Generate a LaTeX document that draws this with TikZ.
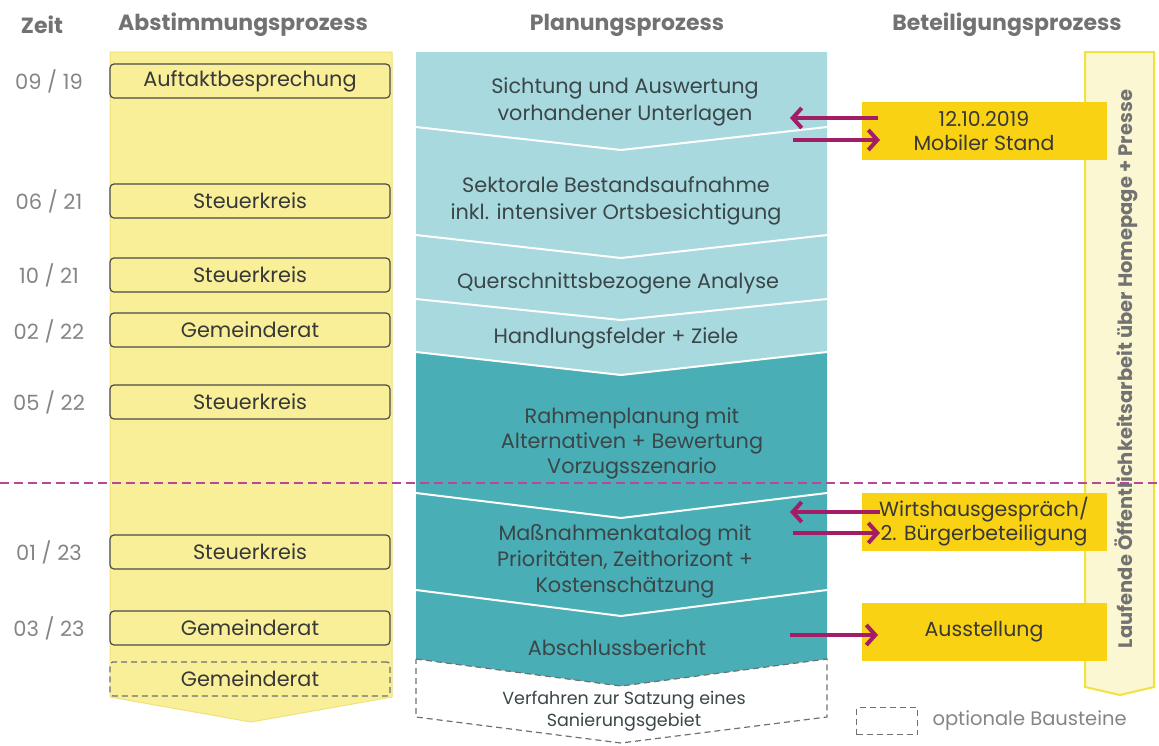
\documentclass[tikz,border=0pt]{standalone}
\usepackage{fontspec}
\setmainfont{Poppins}
\usetikzlibrary{arrows.meta}
\definecolor{ylight}{HTML}{F8EF98}
\definecolor{yedge}{HTML}{EFE27A}
\definecolor{ybright}{HTML}{FAD214}
\definecolor{stripfill}{HTML}{FBF7D2}
\definecolor{stripedge}{HTML}{F2E23E}
\definecolor{tlight}{HTML}{A8D9DE}
\definecolor{tdark}{HTML}{4AAEB6}
\definecolor{hdrgray}{HTML}{727272}
\definecolor{dategray}{HTML}{858585}
\definecolor{txt}{HTML}{383838}
\definecolor{ttxt}{HTML}{3A4648}
\definecolor{boxline}{HTML}{4A4A4A}
\definecolor{magarrow}{HTML}{A21D66}
\definecolor{purpdash}{HTML}{B8479C}
\definecolor{dashgray}{HTML}{707070}
\begin{document}
\begin{tikzpicture}[x=1pt,y=-1pt,
  hdr/.style={font=\fontsize{22}{26}\selectfont\bfseries, text=hdrgray},
  datelbl/.style={font=\fontsize{21}{24}\selectfont, text=dategray},
  abox/.style={draw=boxline, fill=ylight, rounded corners=4pt, line width=1.2pt,
    minimum width=280, minimum height=34, inner sep=0pt, font=\fontsize{20.8}{24}\selectfont, text=txt},
  obox/.style={abox, draw=dashgray, dashed, dash pattern=on 6pt off 4pt, rounded corners=3pt},
  ptext/.style={align=center, font=\fontsize{20.8}{27}\selectfont, text=ttxt},
  bbox/.style={fill=ybright, minimum width=245, minimum height=58, inner sep=0pt,
    align=center, font=\fontsize{20.5}{24}\selectfont, text=txt},
  parr/.style={draw=magarrow, line width=4.5pt, -{Straight Barb[length=9pt,width=20pt,line width=4pt]}},
  segline/.style={draw=white, line width=2pt}
]
\useasboundingbox (0,0) rectangle (1159,745);

% headers
\node[hdr] (hz) at (42,25) {Zeit};
\node[hdr] (ha) at (243,25) {Abstimmungsprozess};
\node[hdr] (hp) at (627,25) {Planungsprozess};
\node[hdr] (hb) at (1007,25) {Beteiligungsprozess};

% left yellow column
\path[fill=ylight, draw=yedge, line width=1pt] (110,52) -- (392,52) -- (392,697) -- (251,722) -- (110,697) -- cycle;

% right strip
\path[fill=stripfill, draw=stripedge, line width=2pt] (1085,52) -- (1154,52) -- (1154,687) -- (1120,695) -- (1085,687) -- cycle;
\node[rotate=90, font=\fontsize{19.5}{22}\selectfont\bfseries, text=hdrgray] (strip) at (1126,369)
  {Laufende Öffentlichkeitsarbeit über Homepage + Presse};

% planning segments
\path[fill=tlight] (416,52) -- (827,52) -- (827,127) -- (621,150) -- (416,127) -- cycle;
\path[fill=tlight] (416,127) -- (621,150) -- (827,127) -- (827,235) -- (621,258) -- (416,235) -- cycle;
\path[fill=tlight] (416,235) -- (621,258) -- (827,235) -- (827,299) -- (621,320) -- (416,299) -- cycle;
\path[fill=tlight] (416,299) -- (621,320) -- (827,299) -- (827,352) -- (621,375) -- (416,352) -- cycle;
\path[fill=tdark] (416,352) -- (621,375) -- (827,352) -- (827,493) -- (621,518) -- (416,493) -- cycle;
\path[fill=tdark] (416,493) -- (621,518) -- (827,493) -- (827,590) -- (621,616) -- (416,590) -- cycle;
\path[fill=tdark] (416,590) -- (621,616) -- (827,590) -- (827,659) -- (621,686) -- (416,659) -- cycle;
\draw[segline] (416,127) -- (621,150) -- (827,127);
\draw[segline] (416,235) -- (621,258) -- (827,235);
\draw[segline] (416,299) -- (621,320) -- (827,299);
\draw[segline] (416,352) -- (621,375) -- (827,352);
\draw[segline] (416,493) -- (621,518) -- (827,493);
\draw[segline] (416,590) -- (621,616) -- (827,590);
% optional dashed segment
\draw[draw=dashgray, line width=1.2pt, dash pattern=on 6pt off 4pt]
  (416,659) -- (621,686) -- (827,659) -- (827,717) -- (621,743) -- (416,717) -- cycle;

\node[ptext] (s1) at (625,102) {Sichtung und Auswertung\\vorhandener Unterlagen};
\node[ptext] (s2) at (616,201) {Sektorale Bestandsaufnahme\\inkl. intensiver Ortsbesichtigung};
\node[ptext] (s3) at (618,283) {Querschnittsbezogene Analyse};
\node[ptext] (s4) at (616,338) {Handlungsfelder + Ziele};
\node[ptext, font=\fontsize{20.8}{25}\selectfont] (s5) at (632,443) {Rahmenplanung mit\\Alternativen + Bewertung\\Vorzugsszenario};
\node[ptext, font=\fontsize{20.8}{26}\selectfont] (s6) at (625,561) {Maßnahmenkatalog mit\\Prioritäten, Zeithorizont +\\Kostenschätzung};
\node[ptext] (s7) at (617,648) {Abschlussbericht};
\node[ptext, font=\fontsize{17.5}{22}\selectfont] (s8) at (624,711) {Verfahren zur Satzung eines\\Sanierungsgebiet};

% dates
\node[datelbl] (d1) at (49,81) {09 / 19};
\node[datelbl] (d2) at (49,201) {06 / 21};
\node[datelbl] (d3) at (49,275) {10 / 21};
\node[datelbl] (d4) at (49,331) {02 / 22};
\node[datelbl] (d5) at (49,402) {05 / 22};
\node[datelbl] (d6) at (49,552) {01 / 23};
\node[datelbl] (d7) at (49,628) {03 / 23};

% Abstimmung boxes
\node[abox] (a1) at (250,81) {Auftaktbesprechung};
\node[abox] (a2) at (250,201) {Steuerkreis};
\node[abox] (a3) at (250,275) {Steuerkreis};
\node[abox] (a4) at (250,330) {Gemeinderat};
\node[abox] (a5) at (250,402) {Steuerkreis};
\node[abox] (a6) at (250,552) {Steuerkreis};
\node[abox] (a7) at (250,628) {Gemeinderat};
\node[obox] (a8) at (250,679) {Gemeinderat};

% participation boxes
\node[bbox] (b1) at (984,131) {12.10.2019\\Mobiler Stand};
\node[bbox] (b2) at (984,522) {Wirtshausgespräch/\\2. Bürgerbeteiligung};
\node[bbox] (b3) at (984,632) {Ausstellung};

% arrows
\coordinate (p1a) at (878,118); \coordinate (p1b) at (790,118);
\coordinate (p2a) at (793,140); \coordinate (p2b) at (880,140);
\coordinate (p3a) at (880,512); \coordinate (p3b) at (790,512);
\coordinate (p4a) at (793,533); \coordinate (p4b) at (880,533);
\coordinate (p5a) at (790,635); \coordinate (p5b) at (878,635);
\draw[parr] (p1a) -- (p1b);
\draw[parr] (p2a) -- (p2b);
\draw[parr] (p3a) -- (p3b);
\draw[parr] (p4a) -- (p4b);
\draw[parr] (p5a) -- (p5b);

% purple dashed divider
\coordinate (dl) at (0,483); \coordinate (dr) at (1159,483);
\draw[purpdash, line width=2.5pt, dash pattern=on 9pt off 5pt] (dl) -- (dr);

% legend
\node[draw=dashgray, line width=1.2pt, dash pattern=on 6pt off 4pt, minimum width=61, minimum height=27, inner sep=0pt] (lg) at (887,721) {};
\node[anchor=west, font=\fontsize{19.5}{22}\selectfont, text=dategray] (lt) at (929,721) {optionale Bausteine};
\end{tikzpicture}
\end{document}
